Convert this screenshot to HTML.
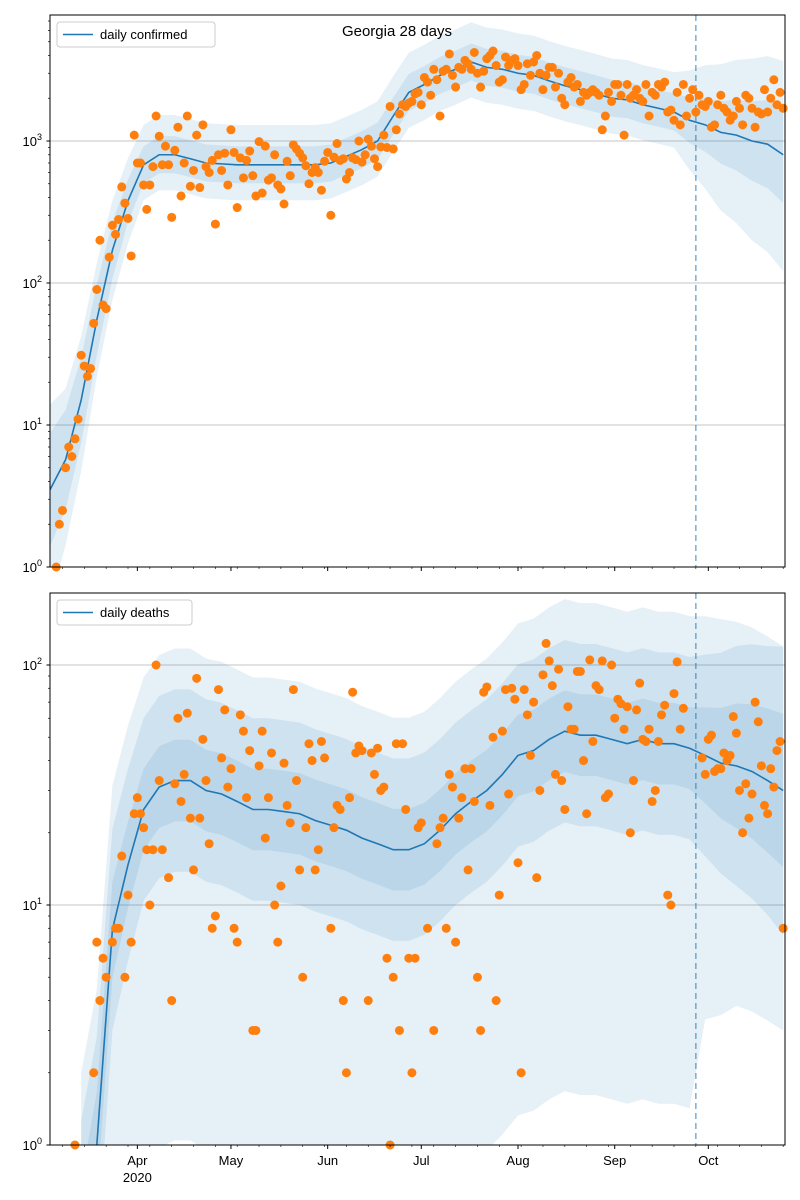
<!DOCTYPE html>
<html><head><meta charset="utf-8"><style>
html,body{margin:0;padding:0;background:#fff;width:800px;height:1200px;overflow:hidden;}
svg{display:block;font-family:"Liberation Sans",sans-serif;}
</style></head><body>
<svg id="chart" width="800" height="1200" viewBox="0 0 800 1200" xmlns="http://www.w3.org/2000/svg">
<defs>
<clipPath id="clipTop"><rect x="50" y="15" width="735" height="552"/></clipPath>
<clipPath id="clipBot"><rect x="50" y="593" width="735" height="552"/></clipPath>
</defs>
<g id="top"></g>
<g id="bot"></g>
</svg>
<script>
// ---- data ----
const monthLabels = ["Apr","May","Jun","Jul","Aug","Sep","Oct"];
const monthDays = [28,58,89,119,150,181,211];
const forecastDay = 207;

const topTrendDays = [0,5,10,15,20,25,30,35,40,45,50,55,60,65,70,75,80,85,90,95,100,105,110,115,120,125,130,135,140,145,150,155,160,165,170,175,180,185,190,195,200,205,210,215,220,225,230,235];
const topTrend = [3.5,5.7,15,55,170,380,680,800,800,750,700,690,680,680,680,680,680,680,700,780,870,1000,1500,2200,2500,2900,3200,3600,3300,3200,3000,2900,2650,2450,2300,2150,2000,1950,1800,1700,1600,1400,1300,1150,1100,1000,950,800];
const topInnerW = [0.4,0.35,0.3,0.25,0.2,0.15,0.13,0.13,0.13,0.13,0.13,0.13,0.13,0.13,0.13,0.13,0.13,0.13,0.13,0.13,0.13,0.13,0.13,0.13,0.13,0.13,0.13,0.13,0.13,0.13,0.13,0.13,0.13,0.13,0.13,0.13,0.13,0.13,0.13,0.13,0.13,0.16,0.19,0.22,0.25,0.28,0.31,0.34];
const topOuterLo = [0.8,0.6,0.5,0.4,0.35,0.3,0.25,0.25,0.25,0.25,0.25,0.25,0.25,0.25,0.25,0.25,0.25,0.25,0.25,0.25,0.25,0.25,0.25,0.25,0.25,0.25,0.25,0.25,0.25,0.25,0.25,0.25,0.25,0.25,0.25,0.25,0.25,0.25,0.25,0.25,0.25,0.35,0.45,0.55,0.62,0.7,0.76,0.82];
const topOuterHi = [0.6,0.5,0.45,0.4,0.35,0.3,0.28,0.28,0.28,0.28,0.28,0.28,0.28,0.28,0.28,0.28,0.28,0.28,0.28,0.28,0.28,0.28,0.28,0.28,0.28,0.28,0.28,0.28,0.28,0.28,0.28,0.28,0.28,0.28,0.28,0.28,0.28,0.28,0.28,0.28,0.28,0.35,0.42,0.48,0.53,0.58,0.62,0.66];
const topObsStart = 2;
const topObs = [1,2,2.5,5,7,6,8,11,31,26,22,25,52,90,200,70,66,152,255,220,280,475,365,285,155,1100,700,700,490,330,490,660,1500,1080,680,920,680,290,860,1250,410,700,1500,480,620,1100,470,1300,660,600,730,260,800,620,820,490,1200,830,340,760,550,730,850,570,410,990,430,920,530,550,800,490,460,360,720,570,940,880,820,760,670,500,600,650,600,450,720,830,300,770,960,730,750,540,600,760,740,1000,710,800,1030,920,750,660,910,1100,900,1750,880,1200,1550,1800,1750,1850,1900,2150,2200,1800,2800,2600,2100,3200,2700,1500,3100,3200,4100,2900,2400,3300,3200,3700,3500,3200,4200,3000,2400,3100,3800,4000,4300,3400,2600,2700,3900,3400,3700,3800,3400,2300,2500,3500,2900,3600,4000,3000,2300,2900,3300,3300,2400,3000,2000,1800,2600,2800,2400,2500,1900,2200,2100,2200,2300,2200,2100,1200,1500,2200,1900,2500,2500,2100,1100,2500,2000,2100,2300,2000,1900,2500,1500,2200,2100,2500,2400,2600,1600,1650,1400,2200,1300,2500,1500,2000,2300,1600,2100,1800,1750,1900,1250,1300,1800,2100,1700,1600,1400,1500,1900,1700,1300,2100,2000,1700,1250,1600,1550,2300,1600,2000,2700,1800,2200,1700];

const botTrendDays = [10,15,20,25,30,35,40,45,50,55,60,65,70,75,80,85,90,95,100,105,110,115,120,125,130,135,140,145,150,155,160,165,170,175,180,185,190,195,200,205,210,215,220,225,230,235];
const botTrend = [0.4,1.0,7.9,14.7,25,31,33,33,30,29,27,25,25,24.5,24,22.5,21.5,20.5,19,18,17,17,18,20.5,24,27,30,35,42,44,49,53,51,51,49,47,49,47,47,45,42,39,38,36,33,30];
const botInnerW = [0.25,0.22,0.2,0.18,0.17,0.17,0.17,0.17,0.17,0.17,0.17,0.17,0.17,0.17,0.17,0.17,0.17,0.17,0.17,0.17,0.17,0.17,0.17,0.17,0.17,0.17,0.17,0.17,0.17,0.17,0.17,0.17,0.17,0.17,0.17,0.17,0.17,0.17,0.17,0.17,0.2,0.23,0.26,0.28,0.3,0.32];
const botMidW = [0.5,0.45,0.42,0.4,0.38,0.38,0.38,0.38,0.38,0.38,0.38,0.38,0.38,0.38,0.38,0.38,0.38,0.38,0.38,0.38,0.38,0.38,0.38,0.38,0.38,0.38,0.38,0.38,0.38,0.38,0.38,0.38,0.38,0.38,0.38,0.38,0.38,0.38,0.38,0.38,0.42,0.46,0.5,0.53,0.56,0.6];
const botOuterLo = [1.8,1.8,1.7,1.6,1.5,1.5,1.5,1.5,1.5,1.5,1.5,1.5,1.5,1.5,1.5,1.5,1.5,1.5,1.5,1.5,1.5,1.5,1.5,1.5,1.5,1.5,1.5,1.5,1.5,1.5,1.5,1.5,1.5,1.5,1.5,1.5,1.5,1.5,1.5,1.5,1.1,1.05,1.0,1.0,1.0,1.0];
const botOuterHi = [0.7,0.65,0.6,0.58,0.55,0.55,0.55,0.55,0.55,0.55,0.55,0.55,0.55,0.55,0.55,0.55,0.55,0.55,0.55,0.55,0.55,0.55,0.55,0.55,0.55,0.55,0.55,0.55,0.55,0.55,0.55,0.55,0.55,0.55,0.55,0.55,0.55,0.55,0.55,0.55,0.58,0.6,0.6,0.6,0.6,0.6];
const botObsDays = [8,14,15,16,17,18,20,21,22,23,24,25,26,27,28,29,30,31,32,33,34,35,36,38,39,40,41,42,43,44,45,46,47,48,49,50,51,52,53,54,55,56,57,58,59,60,61,62,63,64,65,66,67,68,69,70,71,72,73,74,75,76,77,78,79,80,81,82,83,84,85,86,87,88,90,91,92,93,94,95,96,97,98,99,100,102,103,104,105,106,107,108,109,110,111,112,113,114,115,116,117,118,119,121,123,124,125,126,127,128,129,130,131,132,133,134,135,136,137,138,139,140,141,142,143,144,145,146,147,148,149,150,151,152,153,154,155,156,157,158,159,160,161,162,163,164,165,166,167,168,169,170,171,172,173,174,175,176,177,178,179,180,181,182,183,184,185,186,187,188,189,190,191,192,193,194,195,196,197,198,199,200,201,202,203,209,210,211,212,213,214,215,216,217,218,219,220,221,222,223,224,225,226,227,228,229,230,231,232,233,234,235];
const botObs = [1,2,7,4,6,5,7,8,8,16,5,11,7,24,28,24,21,17,10,17,100,33,17,13,4,32,60,27,35,63,23,14,88,23,49,33,18,8,9,79,41,65,31,37,8,7,62,53,28,44,3,3,38,53,19,28,43,10,7,12,39,26,22,79,33,14,5,21,47,40,14,17,48,41,8,21,26,25,4,2,28,77,43,46,44,4,43,35,45,30,31,6,1,5,47,3,47,25,6,2,6,21,22,8,3,18,21,23,8,35,31,7,23,28,37,14,37,27,5,3,77,81,26,50,4,11,53,79,29,80,72,15,2,79,62,42,70,13,30,91,123,104,82,35,96,33,25,67,54,54,94,94,40,24,105,48,82,79,104,28,29,100,60,72,69,54,67,20,33,65,84,49,48,54,27,30,48,62,68,11,10,76,103,54,66,41,35,49,51,36,37,37,43,40,42,61,52,30,20,32,23,29,70,58,38,26,24,37,31,44,48,8];

// ---- drawing ----
const NS = "http://www.w3.org/2000/svg";
const BLUE = "#1f77b4", ORANGE = "#ff7f0e";
function xOf(d){ return 50 + 3.12*d; }
function mk(tag, attrs, parent){ const e=document.createElementNS(NS,tag); for(const k in attrs) e.setAttribute(k,attrs[k]); parent.appendChild(e); return e; }

function panel(g, y0, y1, decades, clipId, trendDays, trend, bands, obsDays, obs, legendText, legendW, showXLabels, title){
  const ppd = (y1-y0)/decades.max;
  const yOf = v => y1 - ppd*Math.log10(v);
  mk("rect",{x:50,y:y0,width:735,height:y1-y0,fill:"#fff"},g);
  for(let k=0;k<=Math.floor(decades.max);k++){
    const gl = mk("line",{x1:50,x2:785,y1:yOf(Math.pow(10,k)),y2:yOf(Math.pow(10,k)),stroke:"#b0b0b0","stroke-width":0.8},g);
    
    
  }
  const cg = mk("g",{"clip-path":"url(#"+clipId+")"},g);
  bands.forEach(b=>{
    let up=[], lo=[];
    trendDays.forEach((d,i)=>{
      up.push(xOf(d)+","+yOf(trend[i]*Math.pow(10,b.hi[i])));
      lo.push(xOf(d)+","+yOf(trend[i]*Math.pow(10,-b.lo[i])));
    });
    const p = mk("polygon",{points:up.concat(lo.reverse()).join(" "),fill:BLUE,"fill-opacity":0.11},cg);
    
    
  });
  const pts = trendDays.map((d,i)=>xOf(d)+","+yOf(trend[i])).join(" ");
  const tl = mk("polyline",{points:pts,fill:"none",stroke:BLUE,"stroke-width":1.6},cg);
  
  
  const fl = mk("line",{x1:xOf(forecastDay),x2:xOf(forecastDay),y1:y0,y2:y1,stroke:BLUE,"stroke-opacity":0.6,"stroke-width":1.5,"stroke-dasharray":"6,4"},g);
  
  
  const og = mk("g",{},g);
  obsDays.forEach((d,i)=>{
    const c = mk("circle",{cx:xOf(d),cy:Math.min(yOf(obs[i]),y1),r:4.5,fill:ORANGE},og);
    
    
  });
  mk("rect",{x:50,y:y0,width:735,height:y1-y0,fill:"none",stroke:"#000","stroke-width":1},g);
  for(let k=0;k<=Math.floor(decades.max);k++){
    const y=yOf(Math.pow(10,k));
    mk("line",{x1:46.5,x2:50,y1:y,y2:y,stroke:"#000"},g);
    const t=mk("text",{x:42,y:y+5,"text-anchor":"end","font-size":13},g);
    
    
    t.textContent="10";
    const s=mk("tspan",{dy:-6,"font-size":9},t); s.textContent=String(k);
    for(let m=2;m<10;m++){
      const ym=yOf(m*Math.pow(10,k)); if(ym<y0) break;
      mk("line",{x1:48,x2:50,y1:ym,y2:ym,stroke:"#000","stroke-width":0.7},g);
    }
  }
  monthDays.forEach((d,i)=>{
    mk("line",{x1:xOf(d),x2:xOf(d),y1:y1,y2:y1+4,stroke:"#000"},g);
    if(showXLabels){
      const t=mk("text",{x:xOf(d),y:y1+20,"text-anchor":"middle","font-size":13},g);
      
      
      t.textContent=monthLabels[i];
    }
  });
  for(let d=0; d<=231; d+=7){ mk("line",{x1:xOf(d+4),x2:xOf(d+4),y1:y1,y2:y1+2,stroke:"#000","stroke-width":0.6},g); }
  if(showXLabels){
    const t=mk("text",{x:xOf(28),y:y1+37,"text-anchor":"middle","font-size":13},g);
    
    
    t.textContent="2020";
  }
  const lg=mk("g",{},g);
  
  
  mk("rect",{x:57,y:y0+7,width:legendW,height:25,rx:3,fill:"#fff","fill-opacity":0.8,stroke:"#ccc"},lg);
  mk("line",{x1:63,x2:93,y1:y0+19.5,y2:y0+19.5,stroke:BLUE,"stroke-width":1.6},lg);
  const lt=mk("text",{x:100,y:y0+24,"font-size":13},lg);
  
  
  lt.textContent=legendText;
  if(title){
    const tt=mk("text",{x:397,y:y0+21,"text-anchor":"middle","font-size":15},g);
    
    
    tt.textContent=title;
  }
}

const topDays = topObs.map((v,i)=>topObsStart+i);
panel(document.getElementById("top"),15,567,{max:(567-15)/142},"clipTop",topTrendDays,topTrend,
  [{lo:topOuterLo,hi:topOuterHi},{lo:topInnerW,hi:topInnerW}],
  topDays,topObs,"daily confirmed",158,false,"Georgia 28 days");
panel(document.getElementById("bot"),593,1145,{max:(1145-593)/240},"clipBot",botTrendDays,botTrend,
  [{lo:botOuterLo,hi:botOuterHi},{lo:botMidW,hi:botMidW},{lo:botInnerW,hi:botInnerW}],
  botObsDays,botObs,"daily deaths",135,true,null);
</script>
</body></html>
